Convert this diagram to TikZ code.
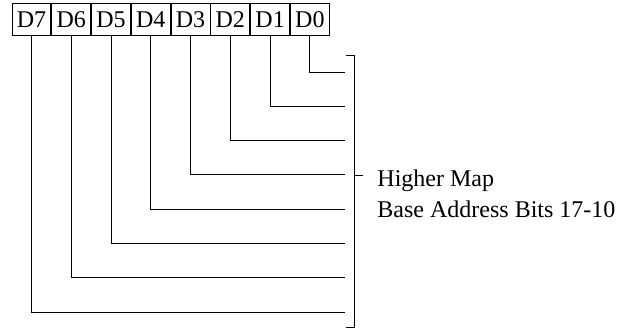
\documentclass[tikz,border=0pt]{standalone}
\usepackage{fontspec}
\setmainfont{Liberation Serif}
\usepackage{tikz}
\usetikzlibrary{positioning}

\begin{document}
\begin{tikzpicture}[x=1pt,y=-1pt,line width=0.9pt,
  bitbox/.style={draw,minimum width=38.875pt,minimum height=32pt,inner sep=0pt,
    text height=17.5pt,text depth=0pt,font=\fontsize{24}{28}\selectfont},
  wire/.style={line width=0.9pt},
  lbl/.style={anchor=base west,inner sep=0pt,font=\fontsize{24}{28}\selectfont}]
  \useasboundingbox (0,0) rectangle (625,329);
  % register bits
  \node[bitbox] (d7) at (31.44,19) {D7};
  \foreach \i/\j in {6/7,5/6,4/5,3/4,2/3,1/2,0/1}
    \node[bitbox,right=0pt of d\j] (d\i) {D\i};
  % wires into the bracket
  \foreach \i in {0,...,7}{
    \coordinate (e\i) at (345,72+34.3*\i);
    \draw[wire] (d\i.south) |- (e\i);
  }
  % bracket
  \coordinate (bt) at (346,55);
  \coordinate (bb) at (346,327);
  \coordinate (bm) at (354,175);
  \draw[wire] (bt) -- ++(8,0) |- (bb);
  \draw[wire] (bm) -- ++(9,0) coordinate (tick);
  \node[lbl] (hi) at (377,186.5) {Higher Map};
  \node[lbl] (ba) at (377,217.5) {Base Address Bits 17-10};
\end{tikzpicture}
\end{document}
